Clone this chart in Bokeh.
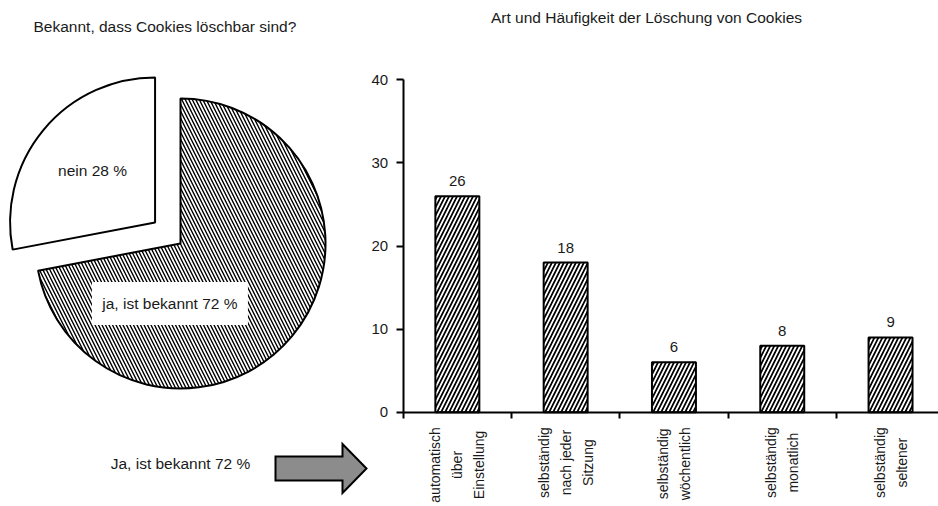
import math
from bokeh.plotting import figure
from bokeh.models import Range1d, FixedTicker, ColumnDataSource
from bokeh.embed import file_html
from bokeh.resources import INLINE
from bokeh.core.properties import value

FONT = "Liberation Sans"
TXT = "#1a1a1a"
FS = "15.5px"

# ---------------- data ----------------
pie_title = "Bekannt, dass Cookies löschbar sind?"
pie_labels = ["ja, ist bekannt", "nein"]
pie_values = [72, 28]
summary_text = "Ja, ist bekannt 72 %"

bar_title = "Art und Häufigkeit der Löschung von Cookies"
bar_categories = [
    "automatisch\nüber\nEinstellung",
    "selbständig\nnach jeder\nSitzung",
    "selbständig\nwöchentlich",
    "selbständig\nmonatlich",
    "selbständig\nseltener",
]
bar_values = [26, 18, 6, 8, 9]
y_ticks = [0, 10, 20, 30, 40]

# ---------------- canvas geometry ----------------
W, H = 938, 506
AX_X = 402.7        # canvas px of the bar chart's y-axis
AX_Y0 = 411.7       # canvas px (from top) of value 0
AX_YTOP = 79.3      # canvas px (from top) of value 40
CW = 108.3          # px per category
YS = (AX_Y0 - AX_YTOP) / 40.0
XMAX = (W - AX_X) / CW

p = figure(width=W, height=H,
           x_range=Range1d(-AX_X / CW, XMAX),
           y_range=Range1d(-(H - AX_Y0) / YS, AX_Y0 / YS),
           output_backend="svg", toolbar_location=None, min_border=0)
p.extra_x_ranges = {"px": Range1d(0, W)}
p.extra_y_ranges = {"py": Range1d(0, H)}
p.grid.visible = False
p.outline_line_color = None
p.background_fill_color = "white"
PX = dict(x_range_name="px", y_range_name="py")

# ---------------- pie ----------------
cx, cy, R = 180, 263, 145
explode = {0: 0, 1: 33}
hatches = {0: "left_diagonal_line", 1: "blank"}
total = sum(pie_values)
order = [1, 0]  # "nein" starts at 12 o'clock, counter-clockwise
start = math.pi / 2
xs, ys, starts, ends, hp, mids = [], [], [], [], [], {}
for i in order:
    span = 2 * math.pi * pie_values[i] / total
    mid = start + span / 2
    mids[i] = mid
    xs.append(cx + explode[i] * math.cos(mid))
    ys.append(cy + explode[i] * math.sin(mid))
    starts.append(start)
    ends.append(start + span)
    hp.append(hatches[i])
    start += span
src = ColumnDataSource(dict(x=xs, y=ys, start=starts, end=ends, hatch=hp))
p.wedge(x="x", y="y", radius=R, start_angle="start", end_angle="end",
        direction="anticlock", fill_color="white", line_color="black",
        line_width=2, hatch_pattern="hatch", hatch_color="black",
        hatch_scale=7, hatch_weight=1.4, source=src, **PX)

nein_x = xs[0] + 0.56 * R * math.cos(mids[1])
nein_y = ys[0] + 0.56 * R * math.sin(mids[1])
ja_ang = math.radians(260)
ja_x = cx + 0.42 * R * math.cos(ja_ang)
ja_y = cy + 0.42 * R * math.sin(ja_ang)
p.rect(x=[ja_x], y=[ja_y], width=156, height=43, fill_color="white", line_color=None, **PX)
p.text(x=[nein_x, ja_x], y=[nein_y, ja_y],
       text=[f"{pie_labels[1]} {pie_values[1]} %", f"{pie_labels[0]} {pie_values[0]} %"],
       text_font=value(FONT), text_font_size=FS, text_color=TXT,
       text_align="center", text_baseline="middle", **PX)

# titles / summary
p.text(x=[33], y=[480], text=[pie_title], text_font=value(FONT), text_font_size=FS,
       text_color=TXT, text_align="left", text_baseline="middle", **PX)
p.text(x=[646], y=[489], text=[bar_title], text_font=value(FONT), text_font_size=FS,
       text_color=TXT, text_align="center", text_baseline="middle", **PX)
p.text(x=[180], y=[43], text=[summary_text], text_font=value(FONT), text_font_size=FS,
       text_color=TXT, text_align="center", text_baseline="middle", **PX)

# block arrow
ax0, ax1, axh, acy, bh, hh = 275, 366, 342, 38, 12, 24.5
p.patch(x=[ax0, axh, axh, ax1, axh, axh, ax0],
        y=[acy + bh, acy + bh, acy + hh, acy, acy - hh, acy - bh, acy - bh],
        fill_color="#8c8c8c", line_color="black", line_width=2, line_join="miter", **PX)

# ---------------- bars ----------------
centers = [i + 0.5 for i in range(len(bar_values))]
p.vbar(x=centers, top=bar_values, width=0.406, fill_color="white", line_color="black",
       line_width=2, hatch_pattern="right_diagonal_line", hatch_color="black",
       hatch_scale=8, hatch_weight=1.7)
p.text(x=centers, y=bar_values, text=[str(v) for v in bar_values],
       text_font=value(FONT), text_font_size="15px", text_color=TXT,
       text_align="center", text_baseline="alphabetic", y_offset=-15)
p.text(x=centers, y=[0] * len(centers), text=bar_categories, angle=math.pi / 2,
       anchor="center_right", text_align="center", y_offset=15,
       text_font=value(FONT), text_font_size="14px", text_color=TXT,
       text_line_height=1.38)

xa = p.xaxis[0]
xa.fixed_location = 0
xa.bounds = (0, XMAX)
xa.ticker = FixedTicker(ticks=centers, minor_ticks=list(range(len(bar_values))))
xa.major_label_overrides = {c: "" for c in centers}
xa.major_tick_line_color = None
xa.major_tick_out = 0
xa.major_tick_in = 0
xa.minor_tick_line_color = "black"
xa.minor_tick_line_width = 2
xa.minor_tick_out = 6
xa.minor_tick_in = 0
xa.axis_line_width = 2
xa.axis_line_color = "black"

ya = p.yaxis[0]
ya.fixed_location = 0
ya.bounds = (0, 40)
ya.ticker = FixedTicker(ticks=y_ticks)
ya.minor_tick_line_color = None
ya.major_tick_out = 7
ya.major_tick_in = 0
ya.major_tick_line_width = 2
ya.major_tick_line_color = "black"
ya.axis_line_width = 2
ya.axis_line_color = "black"
ya.major_label_standoff = 8
ya.major_label_text_font = FONT
ya.major_label_text_font_size = "15px"
ya.major_label_text_color = TXT

open("out.html", "w").write(file_html(p, INLINE))
